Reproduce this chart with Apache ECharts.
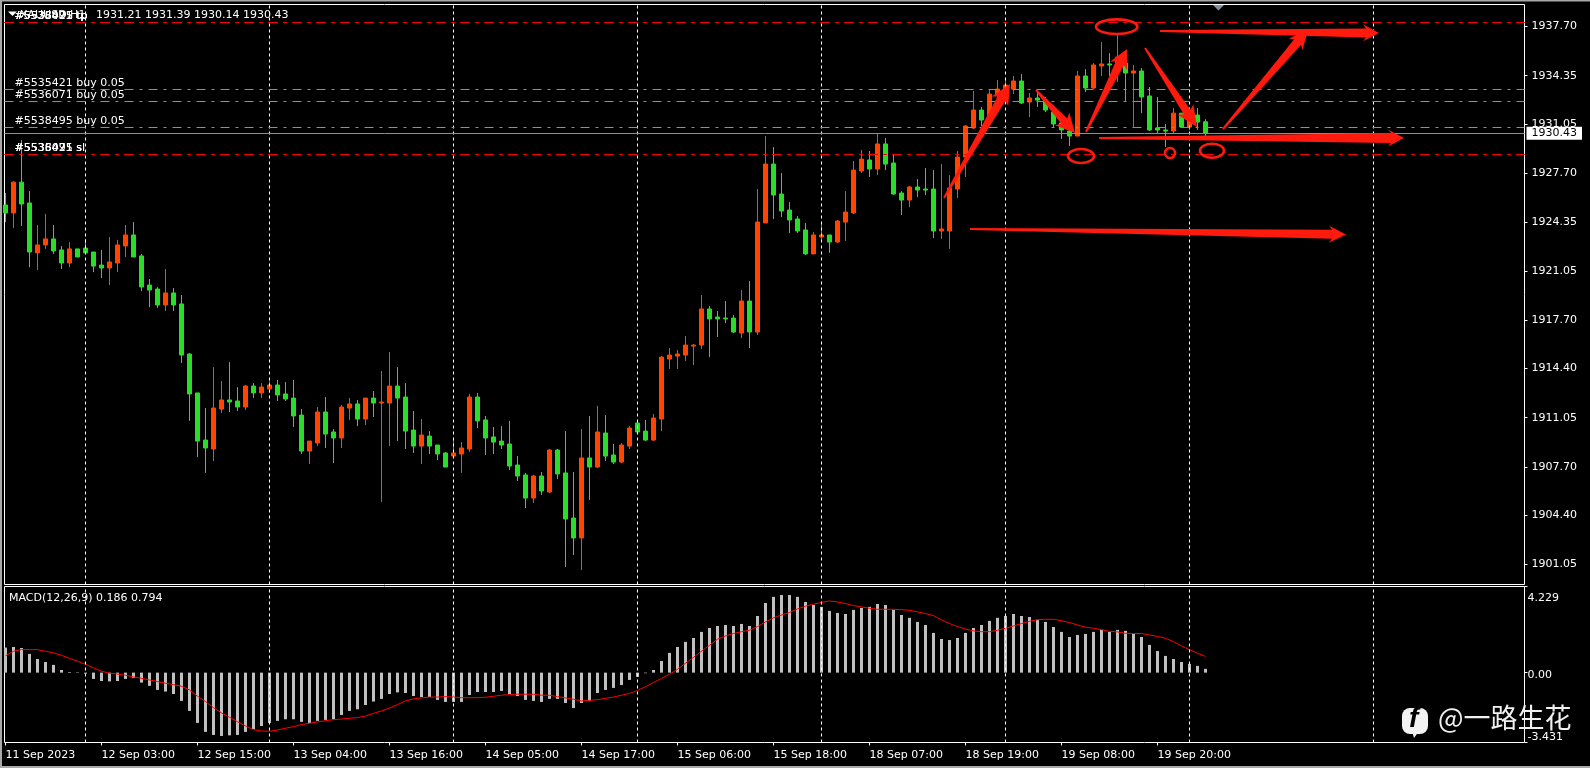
<!DOCTYPE html>
<html>
<head>
<meta charset="utf-8">
<style>html,body{margin:0;padding:0;background:#000;width:100%;height:100%;overflow:hidden}#c{width:1590px;height:768px}</style>
<script src="https://cdn.jsdelivr.net/npm/echarts@6/dist/echarts.min.js"></script>
</head>
<body>
<div id="c"></div>
<script>
const openPrices=[1925.54,1925.00,1927.10,1925.68,1922.28,1922.82,1923.23,1922.48,1921.59,1922.55,
1922.61,1922.34,1921.45,1921.25,1921.59,1922.75,1923.50,1922.07,1920.09,1919.82,
1918.73,1919.55,1918.80,1915.39,1912.74,1909.53,1908.92,1911.64,1912.26,1912.19,
1911.78,1913.21,1912.74,1913.01,1913.28,1912.67,1912.39,1911.23,1908.78,1909.33,
1911.44,1910.08,1909.67,1911.71,1911.99,1910.96,1912.39,1912.05,1912.05,1913.21,
1912.46,1910.21,1909.12,1909.80,1909.19,1908.65,1908.44,1908.58,1908.92,1912.46,
1910.90,1909.74,1909.46,1909.26,1907.83,1907.15,1905.58,1907.08,1905.99,1908.85,
1907.29,1904.22,1902.86,1908.31,1907.69,1910.01,1908.51,1908.03,1909.12,1910.69,
1910.14,1909.53,1910.96,1915.05,1915.25,1915.32,1915.93,1916.00,1918.46,1917.91,
1917.84,1917.84,1916.82,1919.00,1916.89,1924.32,1928.33,1926.29,1925.20,1924.59,
1923.84,1922.21,1923.36,1923.50,1923.02,1924.38,1925.00,1927.86,1928.61,1927.99,
1929.70,1928.40,1926.36,1925.88,1926.77,1926.63,1926.63,1923.77,1923.77,1926.63,
1928.81,1930.79,1932.01,1931.53,1933.03,1933.37,1933.44,1933.99,1932.56,1932.83,
1932.69,1931.87,1931.13,1930.58,1930.24,1934.33,1933.51,1935.01,1935.15,1935.08,
1935.21,1934.53,1934.67,1932.97,1930.79,1930.65,1930.58,1931.80,1930.85,1931.67,
1931.21];
const closePrices=[1925.00,1927.10,1925.61,1922.34,1922.82,1923.23,1922.41,1921.59,1922.55,1922.00,
1922.28,1921.38,1921.25,1921.66,1922.82,1923.50,1922.00,1919.96,1919.75,1918.73,
1919.55,1918.73,1915.32,1912.67,1909.46,1908.99,1911.71,1912.26,1912.12,1911.78,
1913.21,1912.74,1913.14,1913.28,1912.60,1912.33,1911.17,1908.78,1909.46,1911.44,
1909.94,1909.67,1911.78,1911.99,1910.96,1912.39,1912.05,1912.12,1913.21,1912.39,
1910.14,1909.12,1909.87,1909.12,1908.58,1907.69,1908.65,1908.99,1912.46,1910.83,
1909.67,1909.39,1909.19,1907.76,1907.08,1905.58,1907.08,1906.06,1908.85,1907.22,
1904.15,1902.86,1908.31,1907.69,1910.08,1908.44,1908.03,1909.19,1910.35,1910.08,
1909.53,1911.03,1915.18,1915.32,1915.39,1916.00,1916.00,1918.46,1917.78,1917.78,
1917.78,1916.89,1919.00,1916.89,1924.38,1928.33,1926.22,1925.13,1924.52,1923.77,
1922.21,1923.50,1923.50,1923.02,1924.45,1925.06,1927.92,1928.67,1927.99,1929.70,
1928.33,1926.29,1925.88,1926.77,1926.56,1926.56,1923.77,1923.91,1926.70,1928.81,
1930.92,1932.01,1931.33,1933.10,1933.44,1933.71,1933.99,1932.49,1932.83,1932.69,
1932.01,1931.06,1930.65,1930.24,1934.33,1933.51,1935.08,1935.15,1935.08,1935.62,
1934.53,1934.67,1932.90,1930.65,1930.65,1930.58,1931.80,1930.85,1931.67,1931.19,
1930.43];
const lowPrices=[1924.38,1923.98,1924.11,1921.31,1921.11,1922.55,1922.21,1921.18,1921.31,1922.00,
1922.28,1920.97,1920.57,1920.09,1920.97,1922.00,1922.00,1919.68,1918.59,1918.53,
1918.32,1918.32,1914.78,1910.83,1908.37,1907.29,1908.10,1911.37,1911.44,1911.51,
1911.58,1912.39,1912.39,1912.74,1912.19,1912.19,1910.42,1908.58,1907.90,1909.12,
1908.99,1907.96,1908.99,1910.90,1910.48,1910.55,1911.10,1905.31,1909.12,1909.46,
1908.92,1908.65,1907.90,1908.58,1908.17,1907.69,1908.37,1907.29,1908.72,1910.35,
1908.51,1908.58,1908.92,1907.49,1906.74,1904.90,1905.24,1905.79,1905.92,1906.87,
1900.88,1901.70,1900.68,1905.45,1907.63,1908.10,1907.90,1907.96,1908.92,1909.94,
1909.46,1909.46,1910.14,1914.37,1914.37,1914.91,1914.64,1915.73,1915.18,1916.55,
1917.50,1916.82,1916.48,1915.80,1916.69,1924.32,1924.59,1924.72,1923.63,1923.63,
1922.14,1922.21,1923.09,1922.28,1922.95,1923.09,1924.93,1927.72,1927.45,1927.58,
1927.92,1926.22,1924.86,1925.40,1926.08,1926.22,1923.29,1923.23,1922.55,1926.02,
1927.45,1930.72,1930.92,1931.33,1932.69,1933.03,1933.10,1932.42,1931.53,1932.22,
1931.87,1930.85,1930.04,1929.56,1930.24,1933.24,1933.44,1934.33,1934.33,1933.92,
1932.56,1930.79,1931.80,1930.58,1930.45,1929.49,1930.45,1930.79,1930.65,1930.65,
1930.14];
const highPrices=[1926.36,1927.17,1929.97,1926.49,1924.18,1924.93,1924.18,1922.75,1923.02,1922.55,
1923.23,1922.34,1922.48,1923.36,1923.16,1924.18,1924.38,1922.21,1920.50,1919.96,
1921.18,1919.89,1919.41,1915.46,1912.74,1911.71,1914.50,1913.55,1914.84,1913.14,
1913.28,1913.41,1913.41,1913.55,1913.62,1913.48,1913.62,1911.64,1909.46,1911.78,
1912.46,1910.28,1911.92,1912.39,1912.26,1912.39,1912.87,1914.23,1915.53,1914.50,
1913.41,1911.51,1910.96,1910.14,1909.19,1908.72,1909.60,1909.39,1912.67,1912.74,
1911.17,1910.42,1910.48,1910.83,1908.44,1907.29,1907.15,1907.35,1908.92,1908.92,
1910.14,1907.35,1910.28,1911.17,1911.85,1911.23,1909.26,1909.33,1910.48,1910.76,
1910.90,1911.30,1915.25,1915.80,1915.66,1916.62,1916.07,1919.41,1918.66,1918.32,
1919.00,1918.05,1919.75,1920.36,1926.63,1930.24,1929.49,1927.72,1925.74,1924.79,
1924.32,1923.70,1924.32,1923.50,1924.52,1926.49,1928.54,1929.29,1929.22,1930.45,
1930.11,1929.01,1926.49,1926.84,1927.31,1928.06,1927.92,1928.33,1927.58,1929.22,
1930.99,1933.31,1932.22,1933.44,1934.06,1934.06,1934.33,1934.46,1933.17,1933.24,
1932.90,1931.87,1931.33,1930.85,1934.67,1934.80,1935.21,1936.64,1935.89,1937.12,
1935.69,1935.08,1934.87,1933.58,1932.90,1931.06,1932.15,1931.80,1932.15,1932.15,
1931.39];
const macdHistogram=[1.23,1.26,1.21,.92,.67,.52,.38,.13,.03,.02,
-.05,-.31,-.41,-.43,-.41,-.31,-.26,-.49,-.65,-.85,
-.93,-1.05,-1.39,-1.88,-2.47,-2.91,-3.06,-3.11,-3.08,-3.06,
-2.91,-2.77,-2.62,-2.47,-2.37,-2.29,-2.29,-2.42,-2.47,-2.37,
-2.32,-2.29,-2.08,-1.88,-1.80,-1.59,-1.42,-1.29,-1.05,-.97,
-1.00,-1.15,-1.20,-1.20,-1.34,-1.44,-1.44,-1.44,-1.10,-.95,
-.95,-.95,-.90,-1.05,-1.15,-1.34,-1.39,-1.44,-1.29,-1.29,
-1.49,-1.74,-1.49,-1.39,-1.00,-.85,-.75,-.61,-.36,-.21,
-.03,.13,.57,.97,1.26,1.51,1.70,2.00,2.19,2.29,
2.34,2.29,2.39,2.29,2.78,3.42,3.72,3.81,3.81,3.72,
3.47,3.32,3.23,3.03,2.93,2.88,3.08,3.18,3.23,3.37,
3.32,3.08,2.83,2.69,2.49,2.34,1.95,1.65,1.60,1.70,
1.95,2.19,2.34,2.54,2.69,2.78,2.88,2.78,2.73,2.59,
2.49,2.24,2.00,1.75,1.85,1.90,2.00,2.10,2.00,2.10,
2.05,1.90,1.75,1.36,1.06,.82,.67,.52,.43,.33,
.186];
const macdSignal=[.83,1.05,1.13,1.13,1.13,1.05,.97,.85,.70,.56,
.41,.23,.07,-.03,-.07,-.13,-.21,-.28,-.36,-.44,
-.52,-.59,-.67,-.85,-1.16,-1.42,-1.72,-1.98,-2.19,-2.41,
-2.62,-2.80,-2.87,-2.88,-2.82,-2.73,-2.65,-2.55,-2.49,-2.42,
-2.36,-2.31,-2.28,-2.24,-2.21,-2.13,-2.00,-1.88,-1.74,-1.57,
-1.39,-1.29,-1.24,-1.20,-1.20,-1.18,-1.20,-1.23,-1.23,-1.23,
-1.21,-1.16,-1.11,-1.08,-1.06,-1.06,-1.06,-1.11,-1.11,-1.18,
-1.24,-1.31,-1.39,-1.36,-1.33,-1.26,-1.20,-1.11,-1.02,-.88,
-.69,-.49,-.28,-.08,.16,.46,.75,1.05,1.34,1.64,
1.80,1.92,2.01,2.08,2.26,2.49,2.69,2.83,2.95,3.13,
3.26,3.36,3.45,3.52,3.47,3.39,3.29,3.23,3.16,3.11,
3.11,3.11,3.09,3.06,2.98,2.90,2.80,2.59,2.41,2.26,
2.14,2.05,2.01,2.01,2.08,2.18,2.29,2.41,2.52,2.60,
2.62,2.62,2.55,2.46,2.34,2.23,2.18,2.11,2.03,2.00,
1.93,1.92,1.92,1.85,1.78,1.69,1.52,1.31,1.13,.95,
.794];
const timeLabels=["11 Sep 2023","12 Sep 03:00","12 Sep 15:00","13 Sep 04:00","13 Sep 16:00","14 Sep 05:00","14 Sep 17:00","15 Sep 06:00","15 Sep 18:00","18 Sep 07:00","18 Sep 19:00","19 Sep 08:00","19 Sep 20:00"];
const timeLabelBars=[0,12,24,36,48,60,72,84,96,108,120,132,144];
const gridBars=[10,33,56,79,102,125,148,171];
const priceTicks=[1937.70,1934.35,1931.05,1927.70,1924.35,1921.05,1917.70,1914.40,1911.05,1907.70,1904.40,1901.05];
const macdTicks=[-3.431,0,4.229];
const takeProfitLevel=1937.99, stopLossLevel=1929.00, lastPrice=1930.43;
const buyLevels=[1933.42,1932.60,1930.83];
const buyLabels=["#5535421 buy 0.05","#5536071 buy 0.05","#5538495 buy 0.05"];
const tpLabels=["#5535421 tp","#5536071 tp","#5538495 tp"];
const slLabels=["#5535421 sl","#5536071 sl","#5538495 sl"];

const FONT='"DejaVu Sans"';
const candleData=openPrices.map((o,i)=>[i,o,closePrices[i],lowPrices[i],highPrices[i]]);
const dashDot=[9,6,3,6];
const orderLabel=(text,color)=>({show:true,formatter:text,position:'insideStartTop',distance:[10,1],color:'#fff',fontFamily:FONT,fontSize:11});
const levelLines=[];
tpLabels.forEach(t=>levelLines.push({yAxis:takeProfitLevel,lineStyle:{color:'#ff0000',type:dashDot,width:1},label:orderLabel(t)}));
slLabels.forEach(t=>levelLines.push({yAxis:stopLossLevel,lineStyle:{color:'#ff0000',type:dashDot,width:1},label:orderLabel(t)}));
buyLevels.forEach((v,i)=>levelLines.push({yAxis:v,lineStyle:{color:'#3cc83c',type:dashDot,width:1},label:orderLabel(buyLabels[i])}));

/* hand-drawn annotations on the picture: [tailX,tailY,tipX,tipY,headLength,headWidth,shaftWidth] */
const arrows=[
 [944,198,1010,84,20,19,9],
 [1036,90,1075,133,19,19,8],
 [1086,132,1127,49,19,19,9],
 [1145,48,1197,127,21,19,8],
 [1223,129,1308,30,19,18,9],
 [1160,31,1379,33,16,17,9],
 [1099,138,1404,138,16,17,10],
 [970,229,1346,234.5,17,17,9]
];
const ellipses=[[1116.7,26.7,20.7,7.3],[1081,156,13,7],[1170,153,5,5],[1212,150.7,12,7]];
const ANNOT='#ff1a0e';
function arrowPoints(a){
  const [x0,y0,x1,y1,hl,hw,sw]=a;
  const L=Math.hypot(x1-x0,y1-y0),ux=(x1-x0)/L,uy=(y1-y0)/L,nx=-uy,ny=ux;
  const bx=x1-ux*hl,by=y1-uy*hl;
  const nb=x1-ux*(hl-3),nby=y1-uy*(hl-3);
  const tw=1;
  return [[x0+nx*tw,y0+ny*tw],[nb+nx*sw/2,nby+ny*sw/2],[bx+nx*hw/2,by+ny*hw/2],[x1,y1],[bx-nx*hw/2,by-ny*hw/2],[nb-nx*sw/2,nby-ny*sw/2],[x0-nx*tw,y0-ny*tw]];
}
const graphics=[
 {type:'rect',shape:{x:0,y:0,width:1590,height:1.5},style:{fill:'#a8a8a8'},silent:true},
 {type:'rect',shape:{x:0,y:0,width:2,height:768},style:{fill:'#a8a8a8'},silent:true},
 {type:'rect',shape:{x:0,y:766,width:1590,height:2},style:{fill:'#a8a8a8'},silent:true},
 {type:'polygon',shape:{points:[[8,11.5],[17,11.5],[12.5,16]]},style:{fill:'#fff'},z:50},
 {type:'polygon',shape:{points:[[1213,5],[1224,5],[1218.5,10.5]]},style:{fill:'#8492a0'},z:50},
 {type:'text',x:20,y:10,style:{text:'XAUUSD,H1',fill:'#fff',font:'11px '+FONT},z:50},
 {type:'text',x:96,y:10,style:{text:'1931.21 1931.39 1930.14 1930.43',fill:'#fff',font:'11px '+FONT},z:50},
 {type:'text',x:9,y:593,style:{text:'MACD(12,26,9) 0.186 0.794',fill:'#fff',font:'11px '+FONT},z:50},
];
arrows.forEach(a=>graphics.push({type:'polygon',shape:{points:arrowPoints(a)},style:{fill:ANNOT},z:60}));
ellipses.forEach(e=>graphics.push({type:'ellipse',shape:{cx:e[0],cy:e[1],rx:e[2],ry:e[3]},style:{fill:'none',stroke:ANNOT,lineWidth:2.6},z:60}));
graphics.push(
 {type:'rect',shape:{x:1402,y:708,width:26,height:26,r:8},style:{fill:'#f2f2f2'},z:70},
 {type:'polygon',shape:{points:[[1412,731],[1419,731],[1414,738]]},style:{fill:'#f2f2f2'},z:70},
 {type:'text',x:1409,y:705,style:{text:'f',fill:'#000',font:'italic bold 28px "Liberation Sans"'},z:71},
 {type:'text',x:1438,y:704,style:{text:'@一路生花',fill:'#f0f0f0',font:'27px "Noto Sans CJK SC"'},z:70}
);

const xMin=-0.125,xMax=189.875;
const gridVLines={silent:true,symbol:'none',animation:false,label:{show:false},lineStyle:{color:'#fff',type:[3,3],width:1},data:gridBars.map(k=>({xAxis:k}))};
const tickStyle={show:true,length:3,inside:false,lineStyle:{color:'#fff',width:1}};
const labelStyle={color:'#fff',fontFamily:FONT,fontSize:11};
const noLine={show:false,onZero:false};

const chart=echarts.init(document.getElementById('c'),null,{renderer:'canvas',width:1590,height:768});
chart.setOption({
 backgroundColor:'#000',
 animation:false,
 grid:[
  {left:4.5,top:4.5,width:1520,height:580,show:true,borderColor:'#fff',borderWidth:1,backgroundColor:'transparent'},
  {left:4.5,top:586.5,width:1520,height:156,show:true,borderColor:'#fff',borderWidth:1,backgroundColor:'transparent'}
 ],
 xAxis:[
  {type:'value',gridIndex:0,min:xMin,max:xMax,show:false,splitLine:{show:false},axisLine:noLine},
  {type:'value',gridIndex:1,min:xMin,max:xMax,position:'bottom',splitLine:{show:false},axisLine:noLine,
   axisTick:{...tickStyle,customValues:timeLabelBars},
   axisLabel:{...labelStyle,customValues:timeLabelBars,align:'left',margin:7,hideOverlap:false,showMinLabel:true,showMaxLabel:true,
    formatter:v=>timeLabels[timeLabelBars.indexOf(v)]||''}}
 ],
 yAxis:[
  {type:'value',gridIndex:0,position:'right',min:1899.69,max:1939.20,splitLine:{show:false},axisLine:noLine,
   axisTick:{...tickStyle,customValues:priceTicks},
   axisLabel:{...labelStyle,customValues:priceTicks,margin:7,padding:[3,0,0,0],hideOverlap:false,formatter:v=>v.toFixed(2)}},
  {type:'value',gridIndex:1,position:'right',min:-3.431,max:4.229,splitLine:{show:false},axisLine:noLine,
   axisTick:{...tickStyle,customValues:macdTicks},
   axisLabel:{...labelStyle,customValues:macdTicks,margin:3,padding:[5,0,0,0],hideOverlap:false,verticalAlignMinLabel:'bottom',verticalAlignMaxLabel:'top',
    rich:{m:{color:'#fff',fontFamily:FONT,fontSize:11,padding:[1,0,0,0]}},
    formatter:v=>v===0?'0.00':(v>0?'{m|'+v.toFixed(3)+'}':v.toFixed(3))}}
 ],
 series:[
  {type:'line',name:'grid',xAxisIndex:0,yAxisIndex:0,data:[],z:1,markLine:gridVLines},
  {type:'line',name:'orders',xAxisIndex:0,yAxisIndex:0,data:[],z:1,
   markLine:{silent:true,symbol:'none',animation:false,data:levelLines}},
  {type:'candlestick',name:'XAUUSD',xAxisIndex:0,yAxisIndex:0,barWidth:4,z:3,
   encode:{x:0,y:[1,2,3,4]},data:candleData,
   itemStyle:{color:'#ff4500',color0:'#2bdc2b',borderColor:'#ff4500',borderColor0:'#2bdc2b',borderWidth:1}},
  {type:'line',name:'last',xAxisIndex:0,yAxisIndex:0,data:[],z:4,
   markLine:{silent:true,symbol:'none',animation:false,data:[{yAxis:lastPrice,lineStyle:{color:'#8a8f98',type:'solid',width:1},
    label:{show:true,position:'end',distance:2,formatter:lastPrice.toFixed(2),backgroundColor:'#fff',color:'#000',padding:[1,5,0,5],fontFamily:FONT,fontSize:11,lineHeight:12}}]}},
  {type:'line',name:'grid2',xAxisIndex:1,yAxisIndex:1,data:[],z:1,markLine:gridVLines},
  {type:'bar',name:'MACD',xAxisIndex:1,yAxisIndex:1,barWidth:3,z:3,itemStyle:{color:'#c0c0c0'},
   data:macdHistogram.map((v,i)=>[i,v])},
  {type:'line',name:'Signal',xAxisIndex:1,yAxisIndex:1,z:4,symbol:'none',lineStyle:{color:'#ff0000',width:1},
   data:macdSignal.map((v,i)=>[i,v])}
 ],
 graphic:{elements:graphics}
});
</script>
</body>
</html>
